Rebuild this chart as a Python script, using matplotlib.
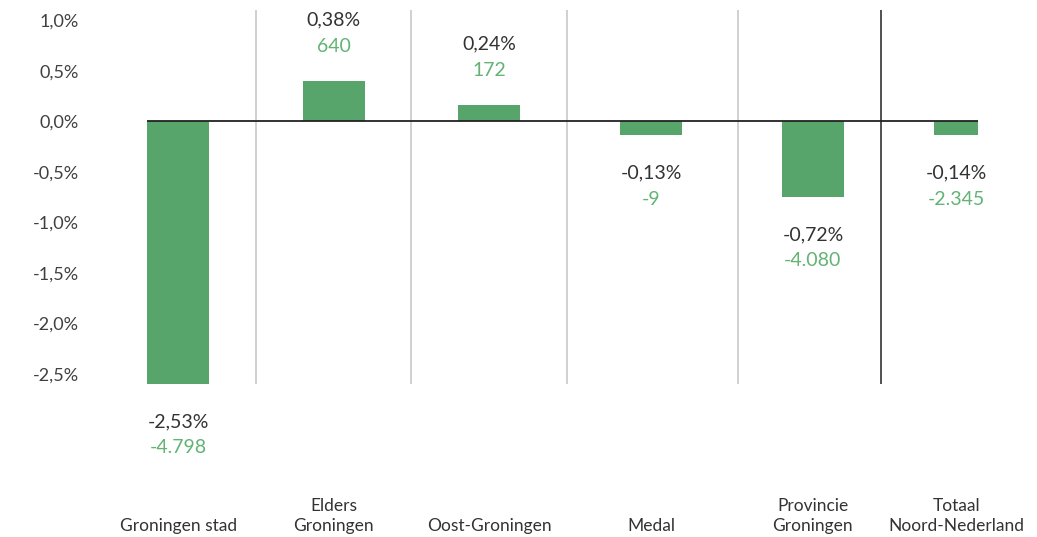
import matplotlib.pyplot as plt
import numpy as np

plt.rcParams['font.family'] = ['Lato', 'DejaVu Sans']

# data
categories = ["Groningen stad", "Elders\nGroningen", "Oost-Groningen", "Medal",
              "Provincie\nGroningen", "Totaal\nNoord-Nederland"]
bar_values = [-2.60, 0.40, 0.16, -0.14, -0.75, -0.14]   # bar heights as drawn (%)
pct_labels = ["-2,53%", "0,38%", "0,24%", "-0,13%", "-0,72%", "-0,14%"]
count_labels = ["-4.798", "640", "172", "-9", "-4.080", "-2.345"]
yticks = [-2.5, -2.0, -1.5, -1.0, -0.5, 0.0, 0.5, 1.0]

# layout
xpos = [0, 1, 2, 3.04, 4.08, 5.0]
widths = [0.40, 0.40, 0.40, 0.40, 0.40, 0.28]
separators = [0.5, 1.5, 2.5, 3.6, 4.52]
sep_colors = ["#c4c4c4"] * 4 + ["#222222"]

bar_color = "#58a56c"
count_color = "#62b374"
text_color = "#333333"

fig = plt.figure(figsize=(10.37, 5.37), dpi=100)
# axes spans px 90..1037 horizontally, 10..384 vertically
ax = fig.add_axes([90 / 1037, 1 - 384 / 537, 1 - 90 / 1037, 374 / 537])

ax.bar(xpos, bar_values, width=widths, color=bar_color, zorder=2)

for s, c in zip(separators, sep_colors):
    ax.axvline(s, color=c, linewidth=1.1, zorder=1)

ax.hlines(0, xpos[0] - widths[0] / 2, xpos[-1] + widths[-1] / 2,
          color="#222222", linewidth=1.3, zorder=3)

for x, v, p, c in zip(xpos, bar_values, pct_labels, count_labels):
    if v >= 0:
        off_pct, off_cnt = 44, 25
    else:
        off_pct, off_cnt = -27, -46
    ax.annotate(p, (x, v), xytext=(0, off_pct), textcoords="offset points",
                ha="center", va="center", fontsize=14, color=text_color,
                annotation_clip=False)
    ax.annotate(c, (x, v), xytext=(0, off_cnt), textcoords="offset points",
                ha="center", va="center", fontsize=14, color=count_color,
                annotation_clip=False)

# category labels along the bottom
for x, name in zip(xpos, categories):
    ax.text(x, -0.402, name, transform=ax.get_xaxis_transform(),
            ha="center", va="bottom", fontsize=12.5, color=text_color,
            linespacing=1.3)

ax.set_xlim(-0.566, 5.52)
ax.set_ylim(-2.6, 1.1)
ax.set_yticks(yticks)
ax.set_yticklabels([f"{t:.1f}%".replace(".", ",") for t in yticks])
ax.tick_params(axis="y", length=0, labelsize=13, labelcolor="#404040", pad=8)
ax.set_xticks([])
for sp in ax.spines.values():
    sp.set_visible(False)

fig.savefig("out.png", dpi=100)
